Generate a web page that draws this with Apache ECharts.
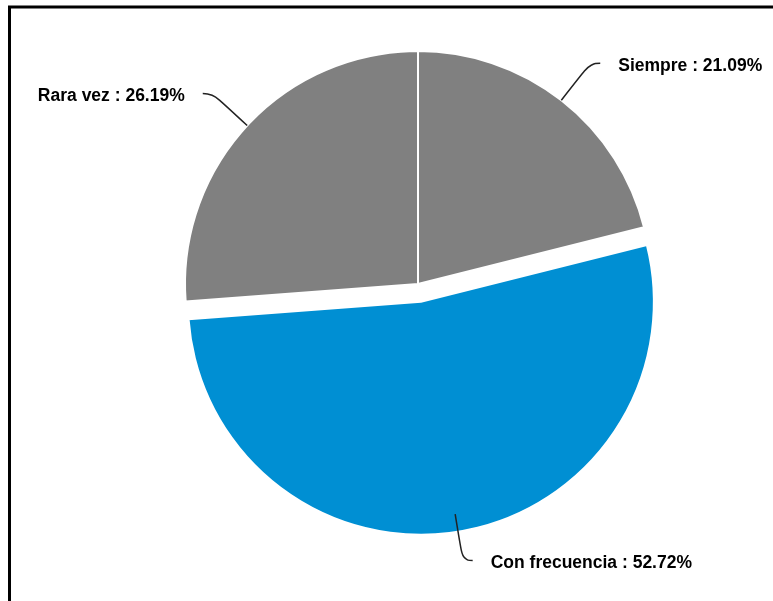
<!DOCTYPE html>
<html>
<head>
<meta charset="utf-8">
<script src="https://cdn.jsdelivr.net/npm/echarts@6/dist/echarts.min.js"></script>
<style>
  html, body { margin: 0; padding: 0; background: #fff; }
  #chart { width: 773px; height: 601px; }
</style>
</head>
<body>
<div id="chart"></div>
<script>
// Survey answer shares (percent)
const categories = ['Siempre', 'Con frecuencia', 'Rara vez'];
const shares = [21.09, 52.72, 26.19];
const colors = ['#808080', '#008fd3', '#808080'];
const explodedIndex = 1;

const chart = echarts.init(document.getElementById('chart'), null, { renderer: 'canvas' });

const center = [418, 284];
const radius = 233;

const sliceData = categories.map((name, i) => ({
  name,
  value: shares[i],
  selected: i === explodedIndex,
  itemStyle: { color: colors[i] }
}));

// Invisible copy of the pie that carries the labels, anchored to the un-exploded outline
const labelData = categories.map((name, i) => ({
  name,
  value: shares[i],
  itemStyle: { color: 'rgba(0,0,0,0)', borderWidth: 0 }
}));

chart.setOption({
  backgroundColor: '#ffffff',
  animation: false,
  graphic: [{
    type: 'rect',
    shape: { x: 9.5, y: 7, width: 900, height: 800 },
    style: { fill: 'none', stroke: '#000', lineWidth: 3 },
    z: 100
  }],
  series: [
    {
      type: 'pie',
      center,
      radius: [0, radius],
      startAngle: 90,
      clockwise: true,
      selectedMode: 'single',
      selectedOffset: 18,
      silent: true,
      data: sliceData,
      itemStyle: { borderColor: '#ffffff', borderWidth: 2 },
      label: { show: false },
      labelLine: { show: false },
      emphasis: { disabled: true }
    },
    {
      type: 'pie',
      center,
      radius: [0, radius],
      startAngle: 90,
      clockwise: true,
      silent: true,
      percentPrecision: 2,
      data: labelData,
      z: 3,
      label: {
        show: true,
        position: 'outside',
        formatter: '{b} : {d}%',
        fontFamily: 'Liberation Sans, Arial, sans-serif',
        fontWeight: 'bold',
        fontSize: 17.5,
        color: '#000',
        distanceToLabelLine: 18
      },
      labelLayout: { dy: 3 },
      labelLine: {
        show: true,
        length: 47,
        length2: 10,
        smooth: 0.5,
        lineStyle: { color: '#222', width: 1.5 }
      },
      emphasis: { disabled: true }
    }
  ]
});
</script>
</body>
</html>
